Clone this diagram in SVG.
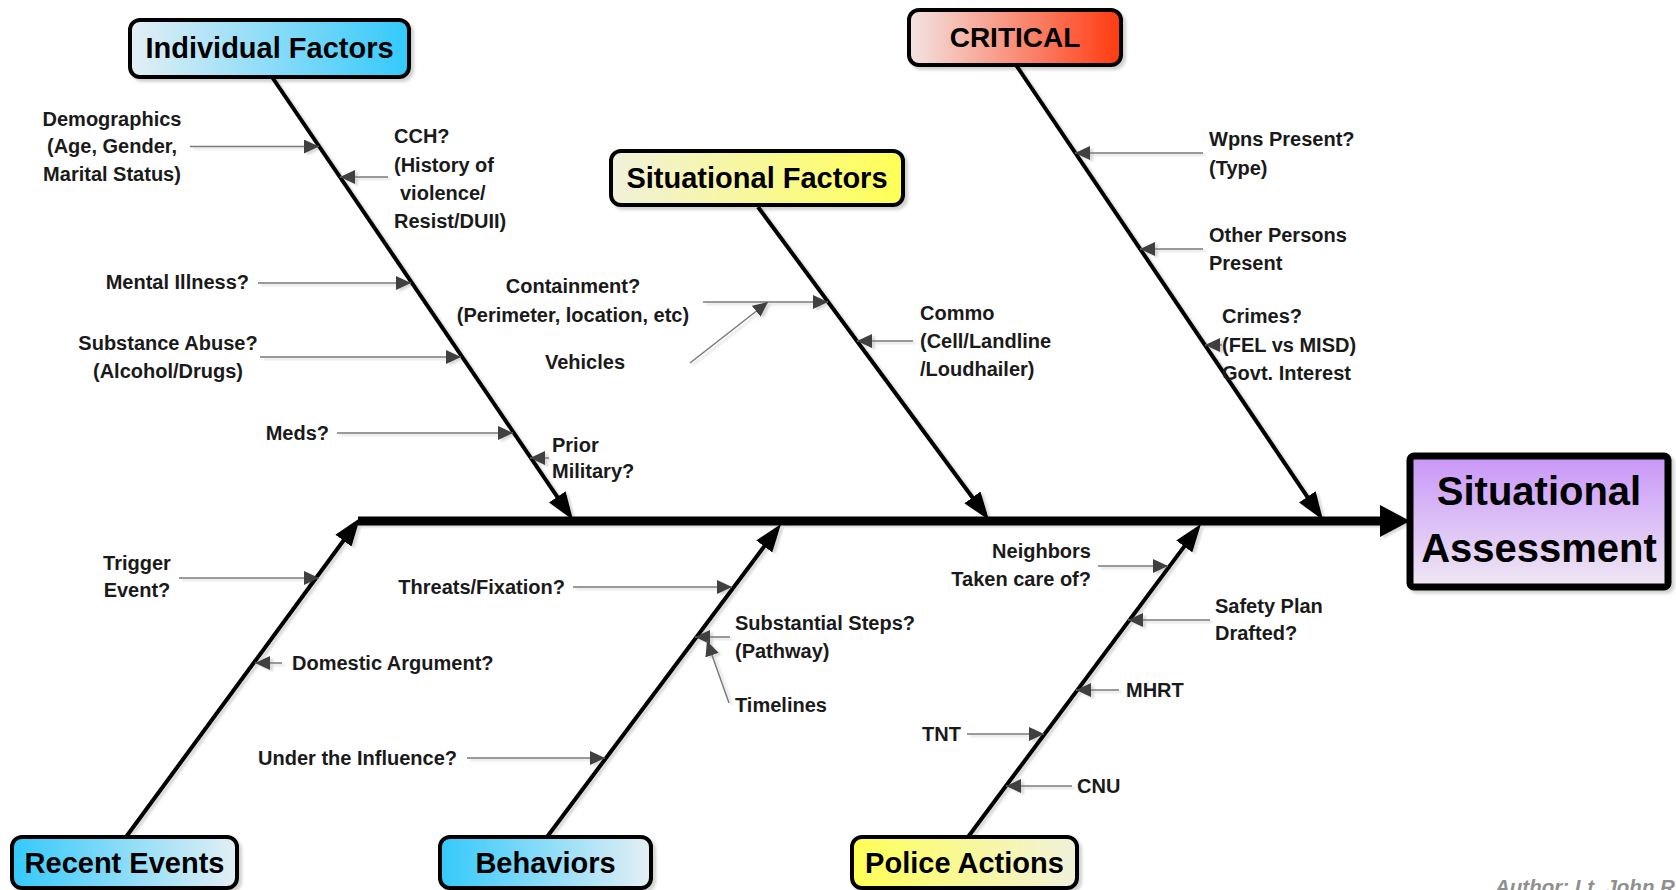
<svg xmlns="http://www.w3.org/2000/svg" width="1676" height="890" viewBox="0 0 1676 890">
<style>
.node{stroke:#000;stroke-width:4;filter:url(#sh)}
.nt{font-family:"Liberation Sans",Arial,sans-serif;font-weight:bold;font-size:29px;fill:#000;text-anchor:middle}
.lb{font-family:"Liberation Sans",Arial,sans-serif;font-weight:bold;font-size:20px;fill:#1a1a1a}
.m{text-anchor:middle}
.e{text-anchor:end}
.spine{stroke:#000;stroke-width:4;fill:none;marker-end:url(#big)}
.main{stroke:#000;stroke-width:9;fill:none;marker-end:url(#bigm)}
.sub{stroke:#7a7a7a;stroke-width:1.5;fill:none;marker-end:url(#sa)}
</style>
<defs>
<filter id="sh" x="-10%" y="-10%" width="130%" height="140%">
<feDropShadow dx="3" dy="3" stdDeviation="1.5" flood-color="#000" flood-opacity="0.18"/>
</filter>
<filter id="lsh" x="-5%" y="-5%" width="110%" height="110%">
<feDropShadow dx="3" dy="2" stdDeviation="0.8" flood-color="#000" flood-opacity="0.15"/>
</filter>
<linearGradient id="gBlueR" x1="0" y1="0" x2="1" y2="0"><stop offset="0" stop-color="#e4eff4"/><stop offset="1" stop-color="#33c9fb"/></linearGradient>
<linearGradient id="gBlueL" x1="0" y1="0" x2="1" y2="0"><stop offset="0" stop-color="#33c9fb"/><stop offset="1" stop-color="#e4eff4"/></linearGradient>
<linearGradient id="gYelR" x1="0" y1="0" x2="1" y2="0"><stop offset="0" stop-color="#f1f1dc"/><stop offset="1" stop-color="#ffff55"/></linearGradient>
<linearGradient id="gYelL" x1="0" y1="0" x2="1" y2="0"><stop offset="0" stop-color="#ffff55"/><stop offset="1" stop-color="#f1f1dc"/></linearGradient>
<linearGradient id="gRed" x1="0" y1="0" x2="1" y2="0"><stop offset="0" stop-color="#f3e4e2"/><stop offset="1" stop-color="#ff3a10"/></linearGradient>
<linearGradient id="gPur" x1="0" y1="0" x2="0" y2="1"><stop offset="0" stop-color="#c896f8"/><stop offset="1" stop-color="#efe8f3"/></linearGradient>
<marker id="big" markerUnits="userSpaceOnUse" markerWidth="28" markerHeight="20" refX="16" refY="10" orient="auto"><path d="M0,0 L28,10 L0,20 z" fill="#000"/></marker>
<marker id="bigm" markerUnits="userSpaceOnUse" markerWidth="30" markerHeight="32" refX="18" refY="16" orient="auto"><path d="M0,0 L30,16 L0,32 z" fill="#000"/></marker>
<marker id="sa" markerUnits="userSpaceOnUse" markerWidth="16" markerHeight="14" refX="15" refY="7" orient="auto"><path d="M0,0 L15,7 L0,14 z" fill="#404040"/></marker>
</defs>
<rect width="1676" height="890" fill="#fff"/>

<g id="connectors" filter="url(#lsh)">
<path class="main" d="M358,521 L1398,521"/>
<path class="spine" d="M272,77 L566.3,510.1"/>
<path class="spine" d="M758,207 L981.9,510.3"/>
<path class="spine" d="M1016,65 L1316.3,510.1"/>
<path class="spine" d="M126,837 L352.9,527.7"/>
<path class="spine" d="M547,837 L773.8,533.6"/>
<path class="spine" d="M968,837 L1193.8,533.6"/>
<path class="sub" d="M190,146.5 L319,146.5"/>
<path class="sub" d="M388,177 L340,177"/>
<path class="sub" d="M258,283 L411,283"/>
<path class="sub" d="M260,357 L461,357"/>
<path class="sub" d="M337,433 L513,433"/>
<path class="sub" d="M549,458 L530,458"/>
<path class="sub" d="M1203,153 L1075,153"/>
<path class="sub" d="M1203,249 L1140,249"/>
<path class="sub" d="M1222,345 L1205,345"/>
<path class="sub" d="M703,302 L828,302"/>
<path class="sub" d="M690,363 L768,302"/>
<path class="sub" d="M913,341 L857,341"/>
<path class="sub" d="M179,578 L319,578"/>
<path class="sub" d="M282,663 L255,663"/>
<path class="sub" d="M573,587 L732,587"/>
<path class="sub" d="M730,637 L695,637"/>
<path class="sub" d="M729,703 L707,641"/>
<path class="sub" d="M467,758 L605,758"/>
<path class="sub" d="M1098,566 L1168,566"/>
<path class="sub" d="M1210,620 L1128,620"/>
<path class="sub" d="M1119,690 L1076,690"/>
<path class="sub" d="M967,734 L1044,734"/>
<path class="sub" d="M1072,786 L1006,786"/>
</g>

<g id="individual-factors">
<rect class="node" x="130" y="20" width="279" height="57" rx="10" fill="url(#gBlueR)"/>
<text class="nt" x="269.5" y="58">Individual Factors</text>
</g>
<g id="critical">
<rect class="node" x="909" y="10" width="212" height="55" rx="10" fill="url(#gRed)"/>
<text class="nt" x="1015" y="47" style="font-size:28px">CRITICAL</text>
</g>
<g id="situational-factors">
<rect class="node" x="611" y="151" width="292" height="54" rx="10" fill="url(#gYelR)"/>
<text class="nt" x="757" y="188">Situational Factors</text>
</g>
<g id="recent-events">
<rect class="node" x="12" y="837" width="225" height="51" rx="10" fill="url(#gBlueL)"/>
<text class="nt" x="124.5" y="873">Recent Events</text>
</g>
<g id="behaviors">
<rect class="node" x="440" y="837" width="211" height="51" rx="10" fill="url(#gBlueL)"/>
<text class="nt" x="545.5" y="873">Behaviors</text>
</g>
<g id="police-actions">
<rect class="node" x="852" y="837" width="225" height="51" rx="10" fill="url(#gYelL)"/>
<text class="nt" x="964.5" y="873">Police Actions</text>
</g>
<g id="situational-assessment">
<rect class="node" x="1410" y="456" width="258" height="131" rx="4" fill="url(#gPur)" style="stroke-width:7"/>
<text class="nt" x="1539" y="505" style="font-size:40px">Situational</text>
<text class="nt" x="1539" y="562" style="font-size:40px">Assessment</text>
</g>

<g id="labels-individual">
<text class="lb m" x="112" y="126">Demographics</text>
<text class="lb m" x="112" y="153">(Age, Gender,</text>
<text class="lb m" x="112" y="181">Marital Status)</text>
<text class="lb" x="394" y="143">CCH?</text>
<text class="lb" x="394" y="172">(History of</text>
<text class="lb" x="400" y="200">violence/</text>
<text class="lb" x="394" y="228">Resist/DUII)</text>
<text class="lb e" x="249" y="289">Mental Illness?</text>
<text class="lb m" x="168" y="350">Substance Abuse?</text>
<text class="lb m" x="168" y="378">(Alcohol/Drugs)</text>
<text class="lb e" x="329" y="440">Meds?</text>
<text class="lb" x="552" y="452">Prior</text>
<text class="lb" x="552" y="478">Military?</text>
</g>
<g id="labels-critical">
<text class="lb" x="1209" y="146">Wpns Present?</text>
<text class="lb" x="1209" y="175">(Type)</text>
<text class="lb" x="1209" y="242">Other Persons</text>
<text class="lb" x="1209" y="270">Present</text>
<text class="lb" x="1222" y="323">Crimes?</text>
<text class="lb" x="1222" y="352">(FEL vs MISD)</text>
<text class="lb" x="1222" y="380">Govt. Interest</text>
</g>
<g id="labels-situational">
<text class="lb m" x="573" y="293">Containment?</text>
<text class="lb m" x="573" y="322">(Perimeter, location, etc)</text>
<text class="lb m" x="585" y="369">Vehicles</text>
<text class="lb" x="920" y="320">Commo</text>
<text class="lb" x="920" y="348">(Cell/Landline</text>
<text class="lb" x="920" y="376">/Loudhailer)</text>
</g>
<g id="labels-recent">
<text class="lb m" x="137" y="570">Trigger</text>
<text class="lb m" x="137" y="597">Event?</text>
<text class="lb" x="292" y="670">Domestic Argument?</text>
</g>
<g id="labels-behaviors">
<text class="lb e" x="565" y="594">Threats/Fixation?</text>
<text class="lb" x="735" y="630">Substantial Steps?</text>
<text class="lb" x="735" y="658">(Pathway)</text>
<text class="lb" x="735" y="712">Timelines</text>
<text class="lb e" x="457" y="765">Under the Influence?</text>
</g>
<g id="labels-police">
<text class="lb e" x="1091" y="558">Neighbors</text>
<text class="lb e" x="1091" y="586">Taken care of?</text>
<text class="lb" x="1215" y="613">Safety Plan</text>
<text class="lb" x="1215" y="640">Drafted?</text>
<text class="lb" x="1126" y="697">MHRT</text>
<text class="lb" x="922" y="741">TNT</text>
<text class="lb" x="1077" y="793">CNU</text>
</g>
<text x="1495" y="894" style="font-family:'Liberation Sans',Arial,sans-serif;font-weight:bold;font-style:italic;font-size:20.5px;fill:#8f8f8f">Author: Lt. John R</text>
</svg>
